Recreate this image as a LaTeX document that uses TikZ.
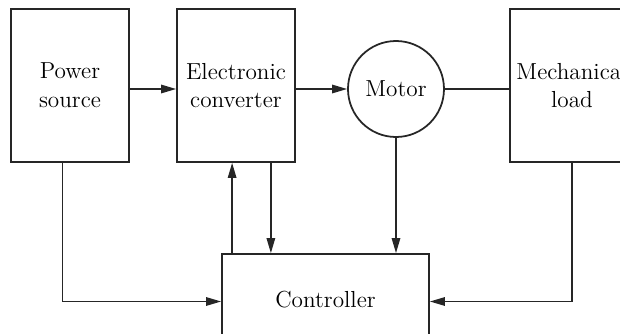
\documentclass[tikz,border=0pt]{standalone}
\usepackage{tikz}
\usetikzlibrary{positioning, arrows.meta, calc}
\tikzset{
    blockstyle/.style={rectangle, draw=black!85, line width=1pt, minimum width=2.36cm, minimum height=3.06cm, align=center, font=\fontsize{13.2}{16.4}\selectfont, inner sep=0pt},
    motorstyle/.style={circle, draw=black!85, line width=1pt, minimum size=1.92cm, font=\fontsize{13.2}{16.4}\selectfont, inner sep=0pt},
    ctrlstyle/.style={rectangle, draw=black!85, line width=1pt, minimum width=4.14cm, minimum height=1.84cm, font=\fontsize{13.2}{16.4}\selectfont},
    arr/.style={-{Triangle[length=0.3cm, width=0.17cm]}, line width=0.75pt, color=black!85},
    shaft/.style={line width=1.4pt, color=black!85}
}
\begin{document}
\begin{tikzpicture}
    \useasboundingbox (0,0) rectangle (12.4,6.66);
    \clip (0,0) rectangle (12.4,6.66);
    \node[blockstyle] at (1.4, 4.95) (pwr) {Power\\source};
    \node[blockstyle] at (4.72, 4.95) (conv) {Electronic\\converter};
    \node[motorstyle] at (7.92, 4.88) (mot) {Motor};
    \node[blockstyle, minimum width=2.48cm] at (11.44, 4.95) (load) {Mechanical\\load};
    \node[ctrlstyle] at (6.51, 0.66) (ctrl) {Controller};
    \coordinate (pwrout) at ([xshift=-0.15cm]pwr.south);
    \coordinate (fbup) at ([xshift=0.22cm]ctrl.north west);
    \coordinate (fbdown) at ([xshift=-0.5cm]conv.south east);
    \draw[arr] (pwr.east |- mot.center) -- (conv.west |- mot.center);
    \draw[arr] (conv.east |- mot.center) -- (mot.west);
    \draw[shaft] (mot.east) -- (load.west |- mot.center);
    \draw[arr] (pwrout) |- ([yshift=-0.03cm]ctrl.west);
    \draw[arr] (fbup) -- (fbup |- conv.south);
    \draw[arr] (fbdown) -- (fbdown |- ctrl.north);
    \draw[arr] (mot.south) -- (mot.south |- ctrl.north);
    \draw[arr] (load.south) |- ([yshift=-0.03cm]ctrl.east);
\end{tikzpicture}
\end{document}
